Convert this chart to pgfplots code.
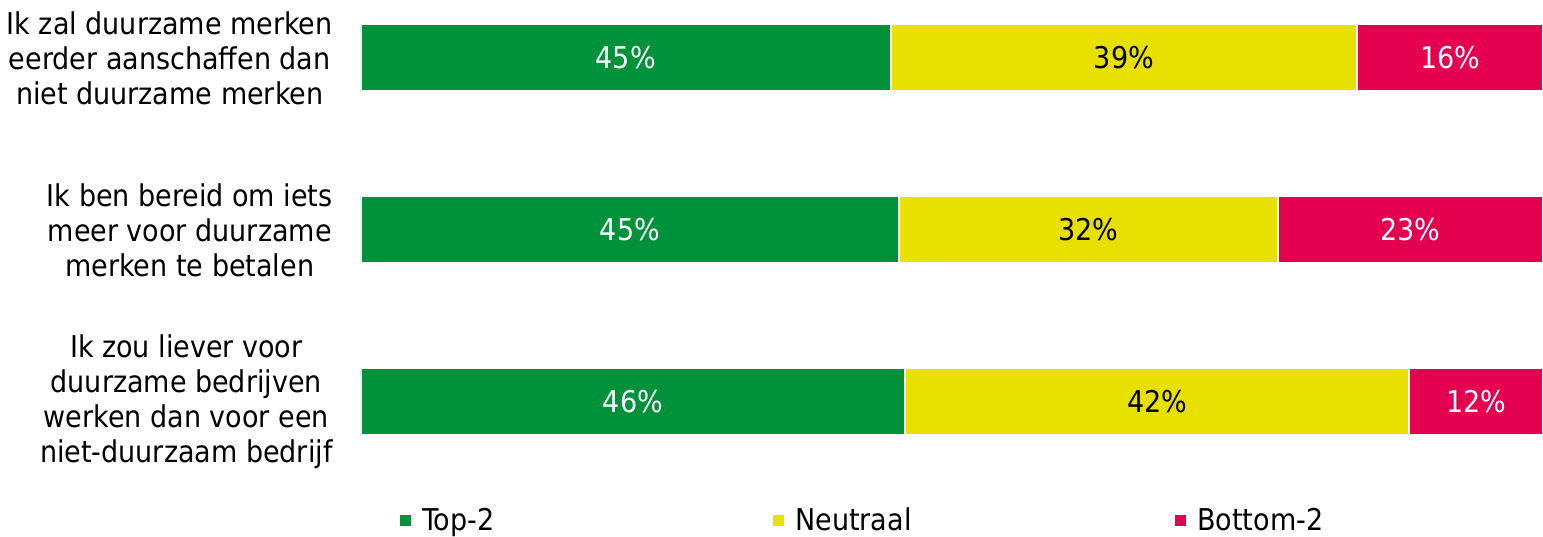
\documentclass[border=0pt]{standalone}
\usepackage{pgfplots}
\pgfplotsset{compat=1.18}
\usepackage{pgfplotstable}
\usepackage{fontspec}
\setmainfont{DejaVu Sans Condensed}
\definecolor{cgreen}{RGB}{0,146,58}
\definecolor{cyellow}{RGB}{232,224,0}
\definecolor{cred}{RGB}{228,0,79}
\pgfplotstableread{
y top neu bot ltop lneu lbot
0 44.8 39.5 15.7 45 39 16
1 45.5 32.1 22.4 45 32 23
2 46.0 42.7 11.3 46 42 12
}\data
\begin{document}
\begin{tikzpicture}
\useasboundingbox (0,0) rectangle (771.5pt,268pt);
\begin{axis}[
  at={(180.5pt,48pt)}, anchor=south west,
  scale only axis, width=591pt, height=220pt,
  font=\fontsize{15}{17.5}\selectfont,
  xbar stacked, bar width=33.5pt,
  xmin=0, xmax=100,
  y dir=reverse, ymin=-0.337, ymax=2.221,
  ytick={0,1,2},
  yticklabels={{Ik zal duurzame merken\\eerder aanschaffen dan\\niet duurzame merken},
               {Ik ben bereid om iets\\meer voor duurzame\\merken te betalen},
               {Ik zou liever voor\\duurzame bedrijven\\werken dan voor een\\niet-duurzaam bedrijf}},
  yticklabel style={align=center, inner sep=0pt, xshift=-14pt},
  xtick=\empty,
  major tick length=0pt,
  axis line style={draw=none},
  point meta=explicit symbolic,
  nodes near coords={\pgfplotspointmeta\%},
  legend columns=3,
  legend style={draw=none, fill=none, inner sep=0pt, at={(0.0313,-0.184)}, anchor=west,
    nodes={inner sep=0pt},
    /tikz/every odd column/.style={column sep=4.5pt}},
  legend image code/.code={\fill[#1] (0pt,-3.25pt) rectangle (6.5pt,3.25pt);},
]
\addplot[fill=cgreen, draw=white, line width=1pt, every node near coord/.append style={text=white}] table[x=top, y=y, meta=ltop] {\data};
\addplot[fill=cyellow, draw=white, line width=1pt, every node near coord/.append style={text=black}] table[x=neu, y=y, meta=lneu] {\data};
\addplot[fill=cred, draw=white, line width=1pt, every node near coord/.append style={text=white}] table[x=bot, y=y, meta=lbot] {\data};
\legend{\makebox[174.5pt][l]{Top-2},\makebox[189pt][l]{Neutraal},Bottom-2}
\end{axis}
\end{tikzpicture}
\end{document}
